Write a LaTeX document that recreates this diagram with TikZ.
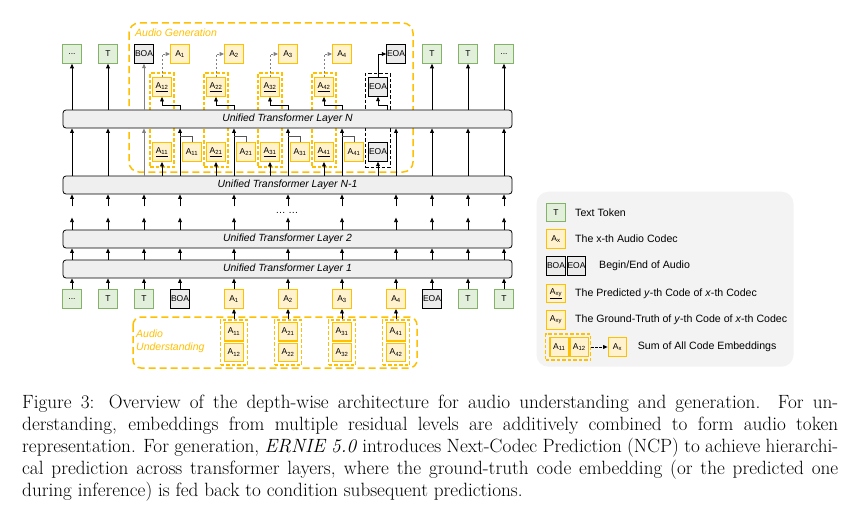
\documentclass[tikz,border=0pt]{standalone}
\usepackage{fontspec}
\newfontfamily\dsans{Liberation Sans}
\usetikzlibrary{arrows.meta,calc}
\definecolor{gfill}{HTML}{E2EFDA}
\definecolor{gdraw}{HTML}{82B366}
\definecolor{yfill}{HTML}{FFF2CC}
\definecolor{ydraw}{HTML}{FFC000}
\definecolor{kfill}{HTML}{EBEBEB}
\definecolor{lfill}{HTML}{EFEFEF}
\definecolor{legfill}{HTML}{F3F3F3}
\definecolor{cgray}{HTML}{555555}
\begin{document}
\begin{tikzpicture}[x=1pt,y=-1pt,
  tok/.style={draw, minimum width=18.5pt, minimum height=18.5pt, inner sep=0pt, font=\dsans\fontsize{8.5}{9}\selectfont, line width=1pt},
  gtok/.style={tok, draw=gdraw, fill=gfill},
  atok/.style={tok, draw=ydraw, fill=yfill, line width=1.3pt},
  ktok/.style={tok, draw=black, fill=kfill, line width=0.9pt},
  layer/.style={draw=black, fill=lfill, rounded corners=3pt, line width=0.8pt, minimum width=449pt, minimum height=18pt, inner sep=0pt, font=\dsans\itshape\fontsize{10.4}{12}\selectfont},
  arr/.style={-{Triangle[length=4.5pt,width=3.8pt]}, line width=0.8pt},
  garr/.style={arr, draw=gray, line width=0.7pt},
  conn/.style={draw=cgray, line width=0.8pt},
  darr/.style={-{Triangle[length=4.5pt,width=3.8pt]}, draw=gray, dash pattern=on 2.5pt off 1.5pt, line width=0.9pt},
  ydash/.style={draw=ydraw, dash pattern=on 7pt off 4pt, line width=1.5pt},
  dbox/.style={draw=ydraw, dash pattern=on 3.5pt off 2pt, line width=1.1pt, inner sep=0pt},
  kbox/.style={draw=black, dash pattern=on 3.5pt off 2pt, line width=0.9pt, inner sep=0pt},
  ylab/.style={text=ydraw, font=\dsans\itshape\fontsize{10.5}{13.4}\selectfont, inner sep=0pt},
  ltxt/.style={anchor=west, inner sep=0pt, font=\dsans\fontsize{10.6}{12}\selectfont}
]
\useasboundingbox (0,0) rectangle (856,511);
\fill[white] (0,0) rectangle (856,511);

% ---------- Audio generation region (behind layers)
\draw[ydash, rounded corners=10pt] (129,23) rectangle (413,172);
\node[ylab, anchor=west] (agl) at (135,33) {Audio Generation};
\foreach \j/\c in {1/180,2/234,3/288,4/342}{
  \node[dbox, minimum width=24pt, minimum height=94pt] (gd\j) at (\c-18,120) {};
}
\node[kbox, minimum width=25pt, minimum height=94pt] (ed) at (377.5,120) {};

% ---------- Layers
\node[layer] (LN)  at (287.5,119) {Unified Transformer Layer N};
\node[layer] (LN1) at (287.5,185) {Unified Transformer Layer N-1};
\node[layer] (L2)  at (287.5,239) {Unified Transformer Layer 2};
\node[layer] (L1)  at (287.5,269) {Unified Transformer Layer 1};
\node[font=\dsans\fontsize{10}{12}\selectfont, inner sep=0pt] (dots) at (287,213) {\dots\ \dots};

% ---------- Top tokens
\node[gtok] (t1) at (72,54) {...};
\node[gtok] (t2) at (108,54) {T};
\node[ktok] (t3) at (144,54) {BOA};
\node[atok] (t4) at (180,54) {A\textsubscript{1}};
\node[atok] (t5) at (234,54) {A\textsubscript{2}};
\node[atok] (t6) at (288,54) {A\textsubscript{3}};
\node[atok] (t7) at (342,54) {A\textsubscript{4}};
\node[ktok] (t8) at (396,54) {EOA};
\node[gtok] (t9) at (432,54) {T};
\node[gtok] (t10) at (468,54) {T};
\node[gtok] (t11) at (504,54) {...};

% ---------- Bottom tokens
\node[gtok] (b1) at (72,299) {...};
\node[gtok] (b2) at (108,299) {T};
\node[gtok] (b3) at (144,299) {T};
\node[ktok] (b4) at (180,299) {BOA};
\node[atok] (b5) at (234,299) {A\textsubscript{1}};
\node[atok] (b6) at (288,299) {A\textsubscript{2}};
\node[atok] (b7) at (342,299) {A\textsubscript{3}};
\node[atok] (b8) at (396,299) {A\textsubscript{4}};
\node[ktok] (b9) at (432,299) {EOA};
\node[gtok] (b10) at (468,299) {T};
\node[gtok] (b11) at (504,299) {T};

% ---------- Vertical flow
\foreach \i in {1,...,11}{
  \draw[arr] (b\i.north) -- (L1.south -| b\i);
  \draw[arr] (L1.north -| b\i) -- (L2.south -| b\i);
  \draw[arr] (L2.north -| b\i) -- ($(L2.north -| b\i)+(0,-12)$);
  \draw[arr] ($(LN1.south -| b\i)+(0,12)$) -- (LN1.south -| b\i);
}
\foreach \i in {1,2,4,5,6,7,8,9,10,11}{
  \draw[arr] (LN1.north -| b\i) -- (LN.south -| b\i);
}
\draw[garr] (LN1.north -| b3) -- (LN.south -| b3);
\foreach \i in {1,2,9,10,11}{
  \draw[arr] (LN.north -| t\i) -- (t\i.south);
}
\draw[garr] (LN.north -| t3) -- (t3.south);

% ---------- Next-codec prediction columns
\foreach \j/\c/\t in {1/180/4,2/234/5,3/288/6,4/342/7}{
  \node[atok] (pu\j) at (\c-18,87) {\underline{A\textsubscript{\j2}}};
  \node[atok] (pl\j) at (\c-18,152) {\underline{A\textsubscript{\j1}}};
  \node[atok] (g\j) at (\c+12,152) {A\textsubscript{\j1}};
  \coordinate (gj\j) at (\c,136);
  \coordinate (uj\j) at (\c,105);
  \draw[arr] (LN1.north -| pl\j) -- (pl\j.south);
  \draw[conn] (g\j.north) |- (gj\j);
  \draw[arr, line width=0.7pt] (LN.north -| uj\j) -- (uj\j) -| (pu\j.south);
  \draw[darr] (pu\j.north) |- (t\t.west);
}
\node[ktok] (eu) at (378,87) {EOA};
\node[ktok] (el) at (378,152) {EOA};
\coordinate (ej) at (387,105);
\draw[arr, line width=0.7pt] (LN.north -| ej) -- (ej) -| (eu.south);
\draw[arr] (eu.north) |- (t8.west);
\draw[arr] (LN1.north -| el) -- (el.south);

% ---------- Audio understanding
\draw[ydash, rounded corners=8pt] (133,317) rectangle (417,368);
\node[ylab, anchor=west, align=left] (aul) at (136,341) {Audio\\Understanding};
\foreach \j/\c/\b in {1/234/5,2/288/6,3/342/7,4/396/8}{
  \node[dbox, minimum width=27pt, minimum height=45pt] (ud\j) at (\c,342.5) {};
  \node[atok] (ua\j) at (\c,331.7) {A\textsubscript{\j1}};
  \node[atok] (ub\j) at (\c,352.5) {A\textsubscript{\j2}};
  \draw[arr] (ud\j.north) -- (b\b.south);
}

% ---------- Legend
\node[fill=legfill, rounded corners=12pt, minimum width=257pt, minimum height=175pt, inner sep=0pt] (leg) at (665,279.2) {};
\node[gtok] (lT) at (556,212.5) {T};
\node[ltxt] (lTt) at (575,212.5) {Text Token};
\node[atok] (lA) at (556,239) {A\textsubscript{x}};
\node[ltxt] (lAt) at (575,239) {The x-th Audio Codec};
\node[ktok] (lB) at (556,266) {BOA};
\node[ktok] (lE) at (576.5,266) {EOA};
\node[ltxt] (lBt) at (599,266) {Begin/End of Audio};
\node[atok] (lP) at (556,293.5) {\underline{A\textsubscript{xy}}};
\node[ltxt] (lPt) at (575,293.5) {The Predicted \textit{y}-th Code of \textit{x}-th Codec};
\node[atok] (lG) at (556,320) {A\textsubscript{xy}};
\node[ltxt] (lGt) at (575,320) {The Ground-Truth of \textit{y}-th Code of \textit{x}-th Codec};
\node[dbox, minimum width=45pt, minimum height=26pt] (lD) at (568.3,347) {};
\node[atok] (lD1) at (559.3,347) {A\textsubscript{11}};
\node[atok] (lD2) at (579.3,347) {A\textsubscript{12}};
\node[atok] (lS) at (617.5,347) {A\textsubscript{x}};
\draw[darr, draw=black] (lD.east) -- (lS.west);
\node[ltxt] (lSt) at (637.7,347) {Sum of All Code Embeddings};

% ---------- Caption
\node[anchor=north west, inner sep=0pt, text width=816pt, align=justify, font=\fontsize{19.2}{22}\selectfont] (cap) at (22,395) {Figure 3: Overview of the depth-wise architecture for audio understanding and generation. For un-\linebreak derstanding, embeddings from multiple residual levels are additively combined to form audio token\linebreak representation. For generation, \textit{ERNIE 5.0} introduces Next-Codec Prediction (NCP) to achieve hierarchi-\linebreak cal prediction across transformer layers, where the ground-truth code embedding (or the predicted one\linebreak during inference) is fed back to condition subsequent predictions.};
\end{tikzpicture}
\end{document}
